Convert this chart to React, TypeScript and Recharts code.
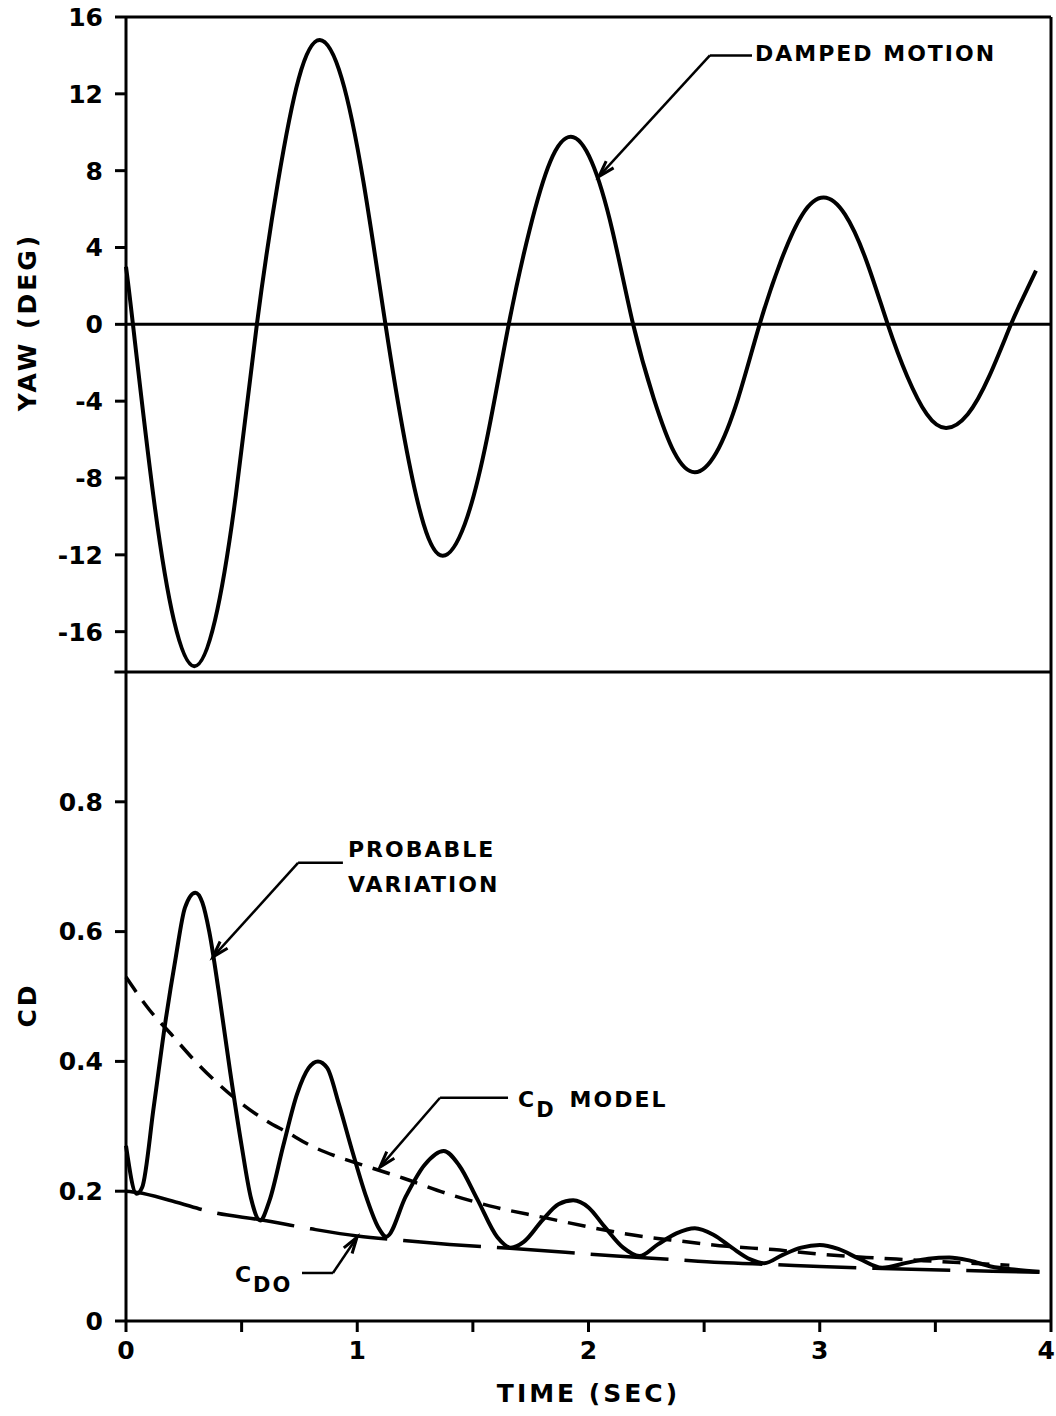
import { LineChart, Line, XAxis, YAxis, ReferenceLine, ReferenceDot, Label } from 'recharts';

// yaw trace (top panel): crossings, extremes and shoulders
const yawTime = [0, 0.03, 0.118, 0.207, 0.295, 0.385, 0.475, 0.566, 0.657, 0.747, 0.838, 0.933, 1.027, 1.122, 1.205, 1.287, 1.37, 1.465, 1.56, 1.655, 1.745, 1.834, 1.924, 2.014, 2.103, 2.193, 2.282, 2.371, 2.46, 2.553, 2.647, 2.74, 2.832, 2.925, 3.017, 3.109, 3.202, 3.294, 3.378, 3.463, 3.547, 3.64, 3.733, 3.827, 3.88, 3.935];
const yawDeg = [3.0, 0, -8.9, -15.4, -17.8, -15.4, -8.9, 0, 7.4, 12.8, 14.8, 12.8, 7.4, 0, -6.0, -10.4, -12.05, -10.4, -6.0, 0, 4.9, 8.45, 9.76, 8.45, 4.9, 0, -3.85, -6.67, -7.7, -6.67, -3.85, 0, 3.3, 5.72, 6.6, 5.72, 3.3, 0, -2.7, -4.68, -5.4, -4.68, -2.7, 0, 1.4, 2.8];

// probable variation of CD (solid)
const cdTime = [0, 0.046, 0.07, 0.12, 0.17, 0.215, 0.255, 0.3, 0.33, 0.36, 0.4, 0.45, 0.5, 0.54, 0.58, 0.62, 0.68, 0.74, 0.79, 0.83, 0.87, 0.92, 0.98, 1.04, 1.09, 1.126, 1.21, 1.29, 1.374, 1.44, 1.52, 1.606, 1.664, 1.72, 1.8, 1.87, 1.934, 2.0, 2.07, 2.15, 2.22, 2.3, 2.38, 2.46, 2.54, 2.62, 2.7, 2.76, 2.84, 2.92, 3.0, 3.08, 3.17, 3.27, 3.38, 3.47, 3.56, 3.65, 3.74, 3.85, 3.95];
const cdValue = [0.27, 0.196, 0.206, 0.33, 0.46, 0.56, 0.637, 0.66, 0.645, 0.6, 0.51, 0.385, 0.27, 0.19, 0.155, 0.185, 0.27, 0.35, 0.39, 0.4, 0.39, 0.335, 0.26, 0.19, 0.145, 0.13, 0.192, 0.24, 0.262, 0.24, 0.187, 0.129, 0.113, 0.122, 0.155, 0.18, 0.186, 0.175, 0.145, 0.113, 0.1, 0.118, 0.135, 0.143, 0.133, 0.113, 0.095, 0.089, 0.102, 0.113, 0.117, 0.111, 0.096, 0.082, 0.09, 0.096, 0.098, 0.093, 0.084, 0.079, 0.076];

// CD model (short dashes)
const modelTime = [0, 0.1, 0.2, 0.3, 0.4, 0.5, 0.6, 0.7, 0.8, 0.9, 1.0, 1.2, 1.4, 1.6, 1.8, 2.0, 2.2, 2.4, 2.6, 2.8, 3.0, 3.2, 3.4, 3.6, 3.82];
const modelValue = [0.53, 0.48, 0.44, 0.4, 0.365, 0.335, 0.31, 0.29, 0.27, 0.255, 0.243, 0.22, 0.195, 0.175, 0.16, 0.145, 0.132, 0.123, 0.115, 0.11, 0.103, 0.098, 0.094, 0.09, 0.086];

// CDO (long dashes)
const cdoTime = [0, 0.05, 0.2, 0.38, 0.58, 0.8, 1.0, 1.2, 1.4, 1.66, 1.9, 2.12, 2.35, 2.57, 2.8, 3.0, 3.27, 3.6, 3.95];
const cdoValue = [0.2, 0.198, 0.185, 0.167, 0.156, 0.142, 0.131, 0.124, 0.118, 0.112, 0.106, 0.1, 0.095, 0.09, 0.087, 0.084, 0.081, 0.078, 0.075];

const yawTicks = [16, 12, 8, 4, 0, -4, -8, -12, -16];
const cdTicks = [0, 0.2, 0.4, 0.6, 0.8];
const timeTicks = [0, 0.5, 1, 1.5, 2, 2.5, 3, 3.5, 4];

const yawData = yawTime.map((t, i) => ({ t, yaw: yawDeg[i] }));
const cdData = cdTime.map((t, i) => ({ t, cd: cdValue[i] }));
const modelData = modelTime.map((t, i) => ({ t, cd: modelValue[i] }));
const cdoData = cdoTime.map((t, i) => ({ t, cd: cdoValue[i] }));

const FONT = '"DejaVu Sans", sans-serif';
const tickStyle = { fill: '#000', fontSize: 25, fontWeight: 'bold' as const, fontFamily: FONT };
const axisLine = { stroke: '#000', strokeWidth: 3 };

const TimeTick = (props: any) => {
  const { x, y, payload } = props;
  const v = payload.value as number;
  if (v % 1 !== 0) return <g />;
  const last = x > 1040;
  return (
    <text
      x={last ? 1055 : x}
      y={y}
      dy="0.71em"
      textAnchor={last ? 'end' : 'middle'}
      fill="#000"
      fontSize={25}
      fontWeight="bold"
      fontFamily={FONT}
    >
      {String(v)}
    </text>
  );
};

const Arrow = (props: any) => {
  const { x1, y1, x2, y2 } = props;
  const a = Math.atan2(y2 - y1, x2 - x1);
  const len = 17;
  const s = 0.3;
  const ax = x2 - len * Math.cos(a - s);
  const ay = y2 - len * Math.sin(a - s);
  const bx = x2 - len * Math.cos(a + s);
  const by = y2 - len * Math.sin(a + s);
  return (
    <g>
      <line x1={x1} y1={y1} x2={x2} y2={y2} stroke="#000" strokeWidth={2.5} />
      <path d={`M${ax},${ay} L${x2},${y2} L${bx},${by}`} fill="none" stroke="#000" strokeWidth={3} />
    </g>
  );
};

const Note = ({ lines, sub, after }: { lines: string[]; sub?: string; after?: string }) => (props: any) => (
  <text x={props.cx} y={props.cy} fill="#000" fontSize={22} fontWeight="bold" fontFamily={FONT} letterSpacing={2}>
    {sub ? (
      <>
        <tspan>C</tspan>
        <tspan dy={10} fontSize={21}>{sub}</tspan>
        {after ? <tspan dy={-10} dx={14}>{after}</tspan> : null}
      </>
    ) : (
      lines.map((l, i) => (
        <tspan key={i} x={props.cx} dy={i === 0 ? 0 : 35}>{l}</tspan>
      ))
    )}
  </text>
);

const AxisTitle = (x: number, y: number, text: string) => () => (
  <text
    x={x}
    y={y}
    transform={`rotate(-90 ${x} ${y})`}
    textAnchor="middle"
    dominantBaseline="central"
    fill="#000"
    fontSize={25}
    fontWeight="bold"
    fontFamily={FONT}
    letterSpacing={3}
  >
    {text}
  </text>
);

export default function App() {
  return (
    <div style={{ position: 'absolute', left: 0, top: 0, width: 1056, height: 1416, background: '#fff' }}>
      <div style={{ position: 'absolute', left: 0, top: 0 }}>
        <LineChart width={1056} height={680} data={yawData} margin={{ top: 17, right: 5, bottom: 8, left: 0 }}>
          <XAxis dataKey="t" type="number" domain={[0, 4]} hide />
          <YAxis
            type="number"
            domain={[-18.1, 16]}
            ticks={yawTicks}
            width={126}
            tick={tickStyle}
            tickSize={11}
            tickMargin={12}
            axisLine={axisLine}
            tickLine={axisLine}
            interval={0}
          >
            <Label content={AxisTitle(27, 322, 'YAW (DEG)')} />
          </YAxis>
          <ReferenceLine y={16} stroke="#000" strokeWidth={3} />
          <ReferenceLine y={0} stroke="#000" strokeWidth={3} />
          <ReferenceLine x={4} stroke="#000" strokeWidth={3} />
          <ReferenceLine
            segment={[{ x: -0.05, y: -18.1 }, { x: 4, y: -18.1 }]}
            stroke="#000"
            strokeWidth={3}
            ifOverflow="visible"
          />
          <Line
            dataKey="yaw"
            type="natural"
            stroke="#000"
            strokeWidth={4}
            dot={false}
            activeDot={false}
            isAnimationActive={false}
          />
          <ReferenceLine segment={[{ x: 2.525, y: 14.0 }, { x: 2.707, y: 14.0 }]} stroke="#000" strokeWidth={2.5} />
          <ReferenceLine segment={[{ x: 2.525, y: 14.0 }, { x: 2.045, y: 7.7 }]} shape={Arrow} />
          <ReferenceDot x={2.72} y={13.7} r={0} shape={Note({ lines: ['DAMPED MOTION'] })} />
        </LineChart>
      </div>
      <div style={{ position: 'absolute', left: 0, top: 660 }}>
        <LineChart width={1056} height={756} margin={{ top: 12, right: 5, bottom: 0, left: 0 }}>
          <XAxis
            dataKey="t"
            type="number"
            domain={[0, 4]}
            ticks={timeTicks}
            interval={0}
            height={95}
            tick={TimeTick}
            tickSize={11}
            tickMargin={9}
            axisLine={axisLine}
            tickLine={axisLine}
          >
            <Label
              value="TIME (SEC)"
              position="insideBottom"
              offset={14}
              fill="#000"
              fontSize={25}
              fontWeight="bold"
              fontFamily={FONT}
              letterSpacing={3}
            />
          </XAxis>
          <YAxis
            type="number"
            domain={[0, 1]}
            ticks={cdTicks}
            width={126}
            tick={tickStyle}
            tickSize={11}
            tickMargin={12}
            axisLine={axisLine}
            tickLine={axisLine}
            interval={0}
          >
            <Label content={AxisTitle(27, 345, 'CD')} />
          </YAxis>
          <ReferenceLine x={4} stroke="#000" strokeWidth={3} />
          <Line
            data={cdData}
            dataKey="cd"
            type="monotone"
            stroke="#000"
            strokeWidth={4}
            dot={false}
            activeDot={false}
            isAnimationActive={false}
          />
          <Line
            data={modelData}
            dataKey="cd"
            type="monotone"
            stroke="#000"
            strokeWidth={3.5}
            strokeDasharray="18 11"
            dot={false}
            activeDot={false}
            isAnimationActive={false}
          />
          <Line
            data={cdoData}
            dataKey="cd"
            type="monotone"
            stroke="#000"
            strokeWidth={3.5}
            strokeDasharray="78 16"
            dot={false}
            activeDot={false}
            isAnimationActive={false}
          />
          <ReferenceLine segment={[{ x: 0.744, y: 0.706 }, { x: 0.938, y: 0.706 }]} stroke="#000" strokeWidth={2.5} />
          <ReferenceLine segment={[{ x: 0.744, y: 0.706 }, { x: 0.376, y: 0.561 }]} shape={Arrow} />
          <ReferenceDot x={0.96} y={0.715} r={0} shape={Note({ lines: ['PROBABLE', 'VARIATION'] })} />
          <ReferenceLine segment={[{ x: 1.358, y: 0.344 }, { x: 1.652, y: 0.344 }]} stroke="#000" strokeWidth={2.5} />
          <ReferenceLine segment={[{ x: 1.358, y: 0.344 }, { x: 1.098, y: 0.237 }]} shape={Arrow} />
          <ReferenceDot x={1.695} y={0.33} r={0} shape={Note({ lines: [], sub: 'D', after: 'MODEL' })} />
          <ReferenceLine segment={[{ x: 0.761, y: 0.074 }, { x: 0.895, y: 0.074 }]} stroke="#000" strokeWidth={2.5} />
          <ReferenceLine segment={[{ x: 0.895, y: 0.074 }, { x: 0.999, y: 0.129 }]} shape={Arrow} />
          <ReferenceDot x={0.471} y={0.06} r={0} shape={Note({ lines: [], sub: 'DO' })} />
        </LineChart>
      </div>
    </div>
  );
}
